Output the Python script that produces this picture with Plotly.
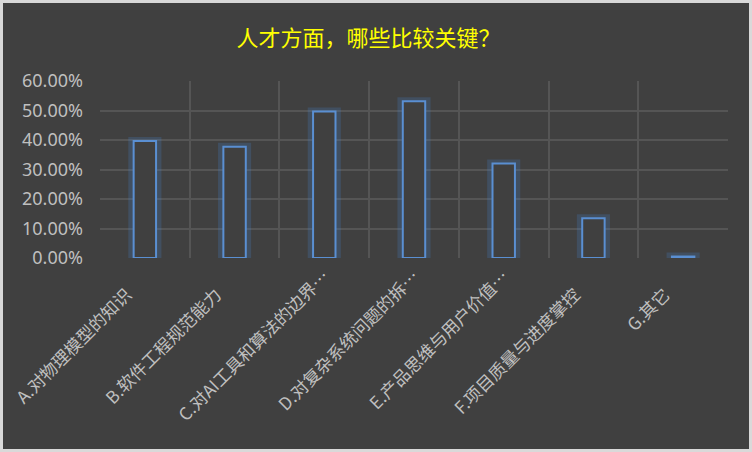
import plotly.graph_objects as go

categories = [
    "A.对物理模型的知识",
    "B.软件工程规范能力",
    "C.对AI工具和算法的边界…",
    "D.对复杂系统问题的拆…",
    "E.产品思维与用户价值…",
    "F.项目质量与进度掌控",
    "G.其它",
]
values = [0.397, 0.377, 0.497, 0.531, 0.320, 0.135, 0.005]
y_ticks = [0, 0.1, 0.2, 0.3, 0.4, 0.5, 0.6]
y_ticktext = ["0.00%", "10.00%", "20.00%", "30.00%", "40.00%", "50.00%", "60.00%"]

bg = "#404040"
L, R, T, B = 100, 24, 81, 194
PW, PH = 752 - L - R, 452 - T - B

# truncated labels sit further up-right in the reference; pad the others
pad = "\u3000\u2002"
x_ticktext = [c if c.endswith("…") else c + pad for c in categories]

fig = go.Figure()
# glow
fig.add_trace(go.Bar(
    x=categories, y=values, width=0.28,
    marker=dict(color="rgba(0,0,0,0)", line=dict(color="rgba(70,130,210,0.22)", width=8)),
    hoverinfo="skip", showlegend=False,
))
fig.add_trace(go.Bar(
    x=categories, y=values, width=0.25,
    marker=dict(color=bg, line=dict(color="#5a8fd2", width=2)),
    showlegend=False,
))

fig.update_layout(
    width=752, height=452,
    paper_bgcolor=bg, plot_bgcolor=bg,
    barmode="overlay",
    margin=dict(l=L, r=R, t=T, b=B, autoexpand=False),
    title=dict(text="人才方面，哪些比较关键？", x=0.49, xanchor="center", y=0.915, yanchor="middle",
               yref="container",
               font=dict(family="Noto Sans CJK SC", size=22, color="#ffff00")),
    font=dict(family="Noto Sans CJK SC", color="#bfbfbf"),
    xaxis=dict(
        type="category", tickson="boundaries", showgrid=True, gridcolor="#555555", gridwidth=2,
        tickvals=categories, ticktext=x_ticktext,
        tickangle=-45, ticks="", tickfont=dict(size=17.3, color="#bfbfbf"),
        ticklabelstandoff=4,
        showline=False, zeroline=False, automargin=False,
    ),
    yaxis=dict(
        range=[0, 0.6], tickvals=y_ticks, ticktext=y_ticktext,
        showgrid=True, gridcolor="#555555", gridwidth=2, zeroline=False, showline=False,
        tickfont=dict(family="Noto Sans", size=18, color="#bfbfbf"), ticks="",
        ticklabelstandoff=16, automargin=False,
    ),
    shapes=[dict(type="rect", xref="paper", yref="paper",
                 x0=-(L - 1.5) / PW, x1=1 + (R - 1.5) / PW,
                 y0=-(B - 1.5) / PH, y1=1 + (T - 1.5) / PH,
                 line=dict(color="#d9d9d9", width=3))],
)

fig.write_html("out.html", config={"displayModeBar": False},
               post_script="document.body.style.margin='0';document.body.style.overflow='hidden';")
